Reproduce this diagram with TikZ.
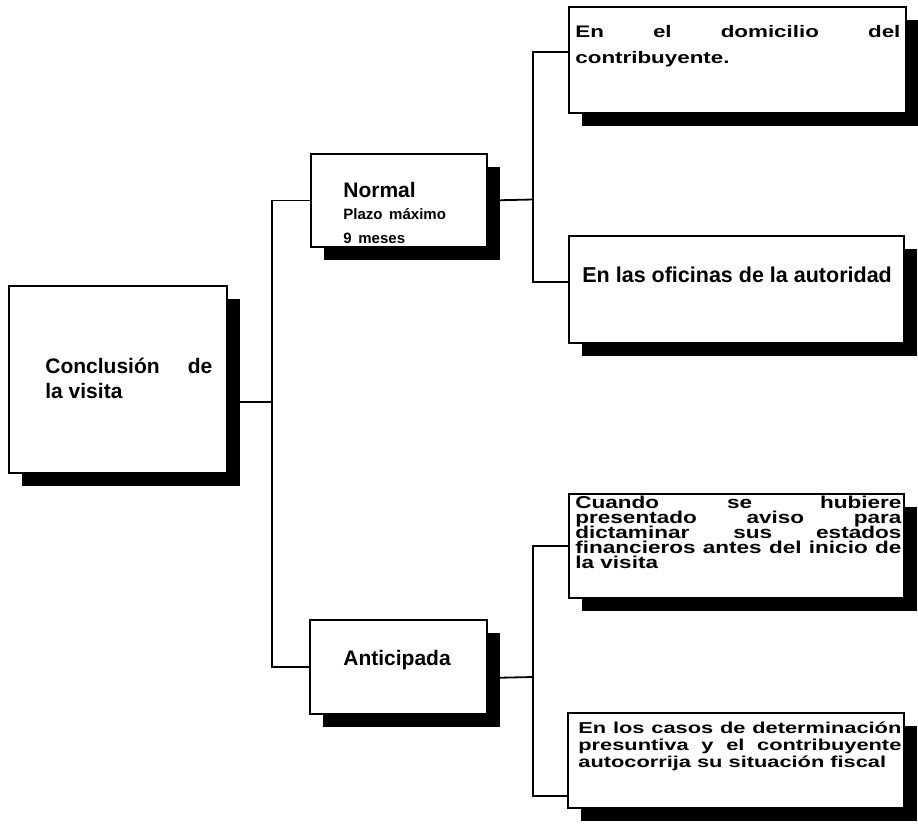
\documentclass[tikz,border=0pt]{standalone}
\usepackage{fontspec}
\setmainfont{Liberation Sans}
\newfontfamily\wideA{Liberation Sans Bold}[FakeStretch=1.34]
\newfontfamily\wideB{Liberation Sans Bold}[FakeStretch=1.31]
\newfontfamily\wideC{Liberation Sans Bold}[FakeStretch=1.38]
\newcommand\tightlines{\lineskiplimit=-100pt\lineskip=0pt\relax}
\usetikzlibrary{shadows}

\begin{document}
\begin{tikzpicture}[x=0.5pt, y=-0.5pt,
    box/.style={draw=black, line width=1pt, fill=white, anchor=north west, inner sep=0pt,
        drop shadow={shadow xshift=6.5pt, shadow yshift=-6.5pt, fill=black, opacity=1}},
    txt/.style={anchor=north west, inner sep=0pt, align=justify},
    link/.style={line width=0.9pt}]
    \useasboundingbox (0,0) rectangle (918,831);
    % boxes
    \node[box, minimum width=109pt,   minimum height=93.5pt] (concl)  at (8,285)   {};
    \node[box, minimum width=88pt,    minimum height=46.5pt] (norm)   at (310,153) {};
    \node[box, minimum width=88.5pt,  minimum height=47pt]   (anti)   at (309,619) {};
    \node[box, minimum width=168.5pt, minimum height=53pt]   (dom)    at (568,6)   {};
    \node[box, minimum width=167.5pt, minimum height=53.5pt] (ofi)    at (568,235) {};
    \node[box, minimum width=167.5pt, minimum height=52pt]   (aviso)  at (568,493) {};
    \node[box, minimum width=168pt,   minimum height=47.5pt] (presun) at (567,712) {};
    % texts
    \node[txt, text width=83.5pt, font=\bfseries\fontsize{10.5}{12.5}\selectfont] (concl-t) at (45,358)
        {Conclusión de\linebreak la visita};
    \node[txt, align=left, text width=80pt] (norm-t) at (343,182)
        {\bfseries\fontsize{10.5}{12}\selectfont Normal\par
         \fontsize{7.5}{11}\selectfont Plazo máximo\par
         \fontsize{7.5}{9}\selectfont 9 meses};
    \node[txt, align=left, font=\bfseries\fontsize{10.5}{12}\selectfont] (anti-t) at (343,650) {Anticipada};
    \node[txt, text width=162.5pt, font=\wideA\fontsize{8.35}{13}\selectfont] (dom-t) at (575,25)
        {En el domicilio del\linebreak contribuyente.};
    \node[txt, align=left, font=\bfseries\fontsize{10.75}{12}\selectfont] (ofi-t) at (582,267)
        {En las oficinas de la autoridad};
    \node[txt, text width=163pt, font=\wideB\fontsize{8.6}{7.4}\selectfont\tightlines] (aviso-t) at (575,496)
        {Cuando se hubiere\linebreak presentado aviso para\linebreak dictaminar sus estados\linebreak
         financieros antes del inicio de\linebreak la visita};
    \node[txt, text width=161.5pt, font=\wideC\fontsize{7.9}{8.5}\selectfont\tightlines] (presun-t) at (578,722)
        {En los casos de determinación\linebreak presuntiva y el contribuyente\linebreak
         autocorrija su situación fiscal};
    % connectors
    \coordinate (jc) at (272,402);
    \coordinate (jn) at (533,199.5);
    \coordinate (ja) at (533,677);
    \draw[link] (concl.east |- jc) -- (jc);
    \draw[link] (norm.west) -| (jc) |- (anti.west);
    \draw[link] (norm.east) -- (jn);
    \draw[link] ([yshift=4pt]dom.west) -| (jn) |- ([yshift=3.75pt]ofi.west);
    \draw[link] ([yshift=-5.5pt]anti.east) -- (ja);
    \draw[link] (aviso.west) -| (ja) |- ([yshift=-17.75pt]presun.west);
\end{tikzpicture}
\end{document}
